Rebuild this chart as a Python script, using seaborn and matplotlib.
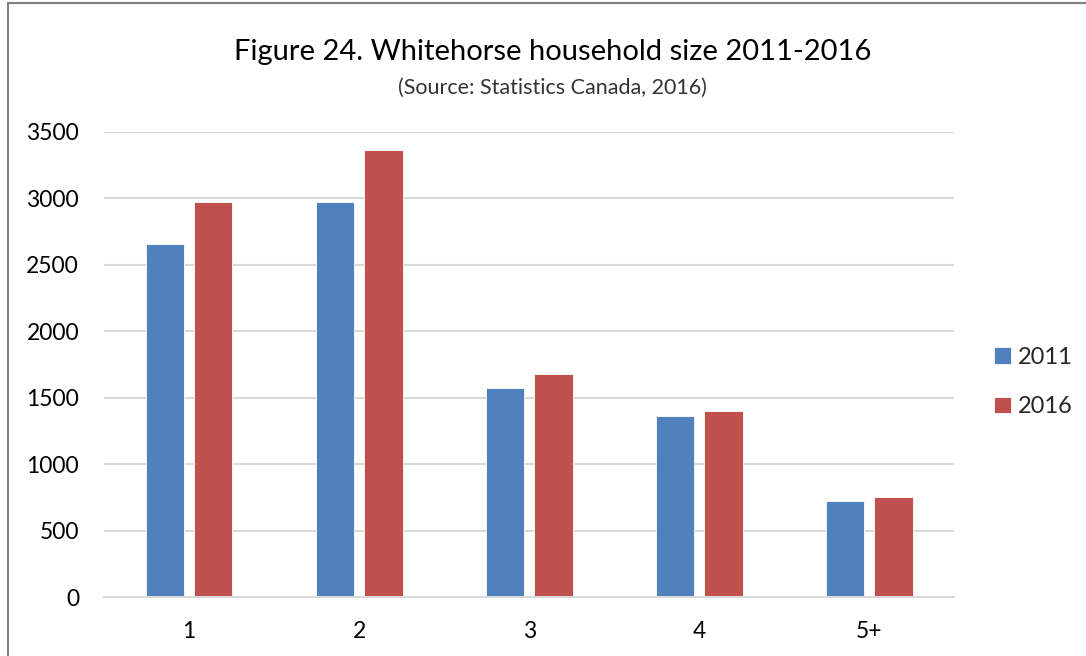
import matplotlib
matplotlib.use("Agg")
import matplotlib.pyplot as plt
import seaborn as sns
import pandas as pd
from matplotlib.patches import Rectangle

categories = ["1", "2", "3", "4", "5+"]
years = ["2011", "2016"]
values_2011 = [2655, 2975, 1575, 1365, 722]
values_2016 = [2975, 3365, 1680, 1400, 752]
colors = ["#4F81BD", "#C0504D"]

df = pd.DataFrame({
    "size": categories * 2,
    "year": [years[0]] * len(categories) + [years[1]] * len(categories),
    "count": values_2011 + values_2016,
})

sns.set_theme(style="white")
plt.rcParams["font.family"] = ["Lato", "DejaVu Sans"]

fig = plt.figure(figsize=(10.86, 6.56), dpi=100)
ax = fig.add_axes([0.0958, 0.0899, 0.7830, 0.7089])

sns.barplot(data=df, x="size", y="count", hue="year", palette=colors,
            width=0.57, gap=0.21, ax=ax, edgecolor="white", linewidth=0.6,
            saturation=1)

ax.set_ylim(0, 3500)
ax.set_xlim(-0.5, 4.5)
ax.set_yticks(range(0, 3501, 500))
ax.yaxis.grid(True, color="#D9D9D9", linewidth=1.5)
ax.set_axisbelow(True)
for s in ["left", "right", "top"]:
    ax.spines[s].set_visible(False)
ax.spines["bottom"].set_color("#D9D9D9")
ax.spines["bottom"].set_linewidth(1.5)
ax.tick_params(axis="both", length=0, labelsize=16.5, labelcolor="black")
ax.tick_params(axis="y", pad=18)
ax.tick_params(axis="x", pad=17)
ax.set_xlabel("")
ax.set_ylabel("")

leg = ax.legend(loc="center left", bbox_to_anchor=(1.022, 0.462), frameon=False,
                fontsize=17, handlelength=0.7, handleheight=0.7,
                handletextpad=0.3, labelspacing=1.2)

fig.text(0.509, 0.92, "Figure 24. Whitehorse household size 2011-2016",
         ha="center", va="center", fontsize=21, color="black")
fig.text(0.509, 0.866, "(Source: Statistics Canada, 2016)",
         ha="center", va="center", fontsize=15.5, color="#333333")

fig.patches.append(Rectangle((8 / 1086, -0.1), 1.2, 1.1 - 3 / 656,
                             transform=fig.transFigure, fill=False,
                             edgecolor="#808080", linewidth=1.5))

fig.savefig("out.png", dpi=100)
